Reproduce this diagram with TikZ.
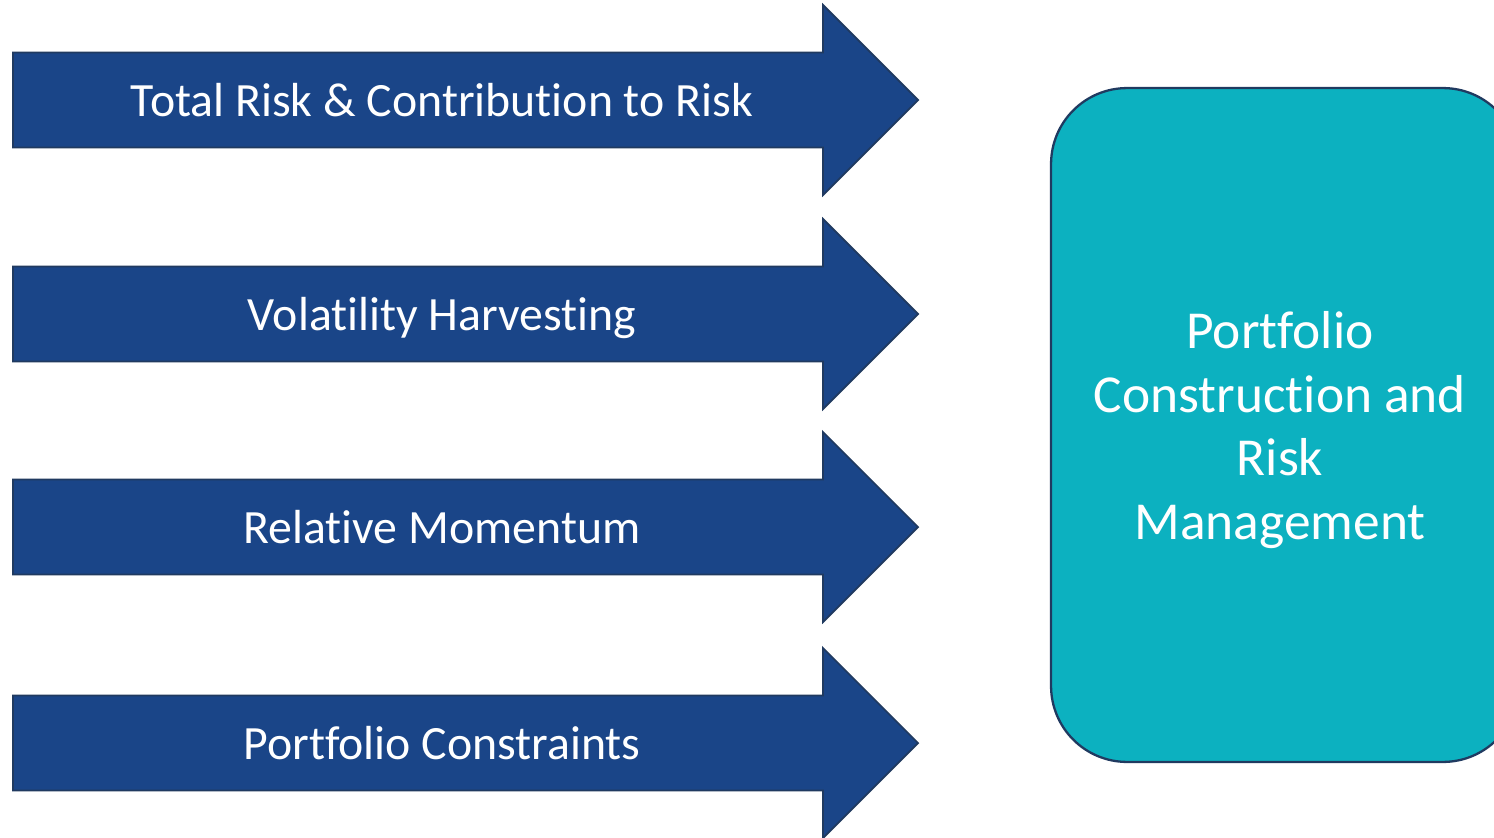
\documentclass[tikz,border=0pt]{standalone}
\usepackage{fontspec}
\setmainfont[Ligatures=NoCommon]{Carlito}
\definecolor{arrowblue}{HTML}{1A4588}
\definecolor{edgeblue}{HTML}{203A60}
\definecolor{boxteal}{HTML}{0CB1C0}

\begin{document}
\begin{tikzpicture}[x=0.02cm, y=-0.02cm,
    blockarrow/.style={fill=arrowblue, draw=edgeblue, line width=1pt, line join=miter},
    arrowtext/.style={text=white, anchor=base, font=\fontsize{27.2}{32}\selectfont},
    mainbox/.style={draw=edgeblue, fill=boxteal, line width=1.3pt,
      rounded corners=1.52cm, minimum width=9.36cm, minimum height=13.48cm},
    boxtext/.style={align=center, text=white, font=\fontsize{30.4}{36.3}\selectfont}]

    % page frame
    \useasboundingbox[fill=white] (0,0) rectangle (1494,838);

    % the four input arrows
    \foreach \yc/\nm/\txt in {100/risk/{Total Risk \& Contribution to Risk},
                              314/vol/{Volatility Harvesting},
                              527/mom/{Relative Momentum},
                              743/cons/{Portfolio Constraints}} {
      \draw[blockarrow] (13,\yc-47.5) -- (823,\yc-47.5) -- (823,\yc-95)
        -- (918,\yc) -- (823,\yc+95) -- (823,\yc+47.5) -- (13,\yc+47.5) -- cycle;
      \node[arrowtext] (\nm) at (442,\yc+16) {\txt};
    }

    % target box (runs off the right edge)
    \node[mainbox] (pcrm) at (1285,425) {};
    \node[boxtext] (pcrmlabel) at (1280,430) {Portfolio\\Construction and\\Risk\\Management};

\end{tikzpicture}
\end{document}
